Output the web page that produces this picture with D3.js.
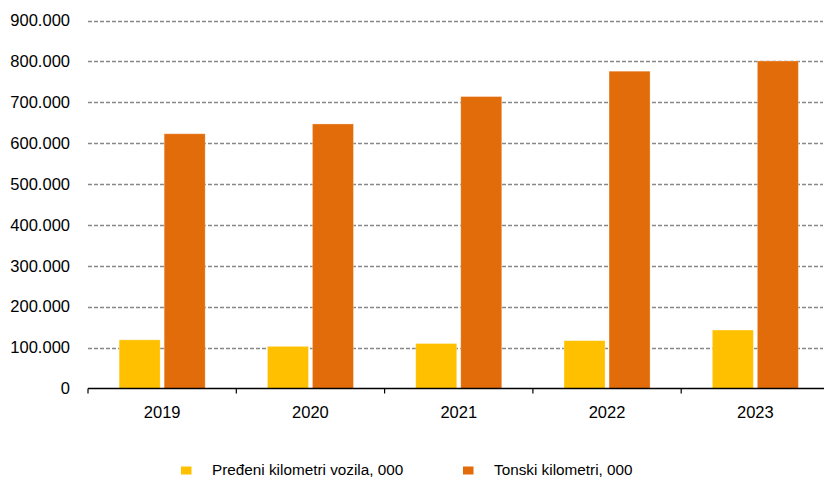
<!DOCTYPE html>
<html>
<head>
<meta charset="utf-8">
<script src="https://cdn.jsdelivr.net/npm/d3@7"></script>
<style>
  html, body { margin: 0; padding: 0; background: #fff; overflow: hidden; }
  svg { display: block; font-family: "Liberation Sans", Arial, sans-serif; }
</style>
</head>
<body>
<svg id="chart" width="824" height="478"></svg>
<script>
const categories = ["2019", "2020", "2021", "2022", "2023"];
const seriesNames = ["Pređeni kilometri vozila, 000", "Tonski kilometri, 000"];
const vehicleKm = [119000, 103000, 110000, 117000, 143000];
const tonneKm = [623000, 647000, 714000, 776000, 801000];
const yTicks = [0, 100000, 200000, 300000, 400000, 500000, 600000, 700000, 800000, 900000];
const colors = ["#FFC000", "#E36C0A"];

const data = categories.map((c, i) => ({ cat: c, values: [vehicleKm[i], tonneKm[i]] }));

const svg = d3.select("#chart");
const plotLeft = 88, plotRight = 829.5, plotTop = 20.5, plotBottom = 388.5;

const x0 = d3.scaleBand().domain(categories).range([plotLeft, plotRight]).paddingInner(0.42).paddingOuter(0.21);
const x1 = d3.scaleBand().domain([0, 1]).range([0, x0.bandwidth()]).paddingInner(0.089).paddingOuter(0);
const y = d3.scaleLinear().domain([0, 900000]).range([plotBottom, plotTop]);

const locale = d3.formatLocale({ decimal: ",", thousands: ".", grouping: [3], currency: ["", ""] });
const fmt = locale.format(",d");

// gridlines
svg.append("g").selectAll("line").data(yTicks.filter(d => d > 0)).join("line")
  .attr("x1", plotLeft).attr("x2", 823)
  .attr("y1", d => Math.round(y(d)) + 0.5).attr("y2", d => Math.round(y(d)) + 0.5)
  .attr("stroke", "#888888").attr("stroke-width", 1.3).attr("stroke-dasharray", "4,2");

// y labels
svg.append("g").selectAll("text").data(yTicks).join("text")
  .attr("x", 70).attr("y", d => y(d)).attr("dy", "0.35em")
  .attr("text-anchor", "end").attr("font-size", "16.5px").attr("fill", "#000")
  .text(d => fmt(d));

// bars
const groups = svg.append("g").selectAll("g").data(data).join("g")
  .attr("transform", d => `translate(${x0(d.cat)},0)`);
groups.selectAll("rect").data(d => d.values.map((v, i) => ({ v, i }))).join("rect")
  .attr("x", d => x1(d.i)).attr("width", x1.bandwidth())
  .attr("y", d => y(d.v)).attr("height", d => y(0) - y(d.v))
  .attr("fill", d => colors[d.i])
  .attr("stroke", "#ffffff").attr("stroke-opacity", 0.35).attr("stroke-width", 0.8);

// x axis
const xAxis = svg.append("g");
xAxis.append("line").attr("x1", plotLeft).attr("x2", 824).attr("y1", plotBottom).attr("y2", plotBottom)
  .attr("stroke", "#000").attr("stroke-width", 1.3);
const step = x0.step();
const boundaries = d3.range(categories.length + 1).map(i => plotLeft + i * step).filter(v => v <= 824);
xAxis.selectAll("line.tick").data(boundaries).join("line").attr("class", "tick")
  .attr("x1", d => d).attr("x2", d => d).attr("y1", plotBottom).attr("y2", plotBottom + 5)
  .attr("stroke", "#000").attr("stroke-width", 1.2);
xAxis.selectAll("text").data(categories).join("text")
  .attr("x", d => x0(d) + x0.bandwidth() / 2).attr("y", 412).attr("dy", "0.35em")
  .attr("text-anchor", "middle").attr("font-size", "16.5px").attr("fill", "#000")
  .text(d => d);

// legend
const legendX = [181, 463];
const textX = [212, 494];
const legend = svg.append("g").selectAll("g").data(seriesNames).join("g");
legend.append("rect")
  .attr("x", (d, i) => legendX[i]).attr("y", 466.5).attr("width", 10.5).attr("height", 8)
  .attr("fill", (d, i) => colors[i]);
legend.append("text")
  .attr("x", (d, i) => textX[i]).attr("y", 474.5)
  .attr("font-size", "15.3px").attr("fill", "#000")
  .text(d => d);
</script>
</body>
</html>
